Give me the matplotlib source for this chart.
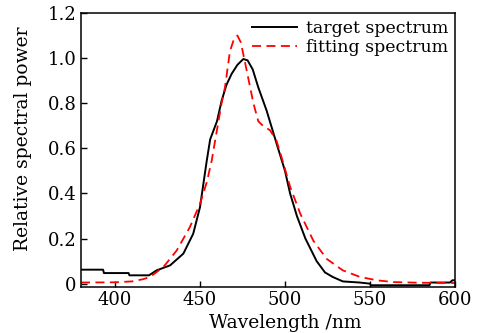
import numpy as np
import matplotlib
matplotlib.use('Agg')
import matplotlib.pyplot as plt

# target spectrum
wl_target = [380, 393, 393.5, 408, 408.5, 420, 424.5, 432.4, 440.2, 446, 450, 454,
             456, 460, 462.7, 465.5, 468.6, 472, 475.5, 478, 481, 484.3, 489.2,
             495.1, 500, 503, 507, 512, 518.6, 523.5, 528, 534, 544, 550, 550.5,
             585, 585.5, 597, 598.5, 600]
target = [0.062, 0.062, 0.047, 0.047, 0.037, 0.037, 0.059, 0.081, 0.133, 0.221,
          0.339, 0.546, 0.64, 0.72, 0.81, 0.88, 0.93, 0.97, 0.996, 0.99, 0.95,
          0.87, 0.767, 0.62, 0.50, 0.40, 0.30, 0.20, 0.10, 0.05, 0.03, 0.01, 0.005,
          0.0, -0.007, -0.007, 0.005, 0.005, 0.015, 0.015]

# fitting spectrum
wl_fit = [380, 400, 410, 416.7, 420.6, 428.4, 436.3, 444, 450, 454, 456.9, 459.5,
          462.7, 464.7, 467.6, 470, 472, 474, 477.5, 481.4, 484.3, 487, 491.2, 495,
          498, 503, 509, 516.7, 524.5, 534, 544, 554, 563.7, 580, 600]
fit = [0.005, 0.006, 0.01, 0.02, 0.03, 0.073, 0.147, 0.25, 0.354, 0.45, 0.546, 0.66,
       0.80, 0.87, 1.03, 1.085, 1.10, 1.07, 0.944, 0.80, 0.72, 0.70, 0.68, 0.634,
       0.56, 0.43, 0.31, 0.19, 0.11, 0.059, 0.03, 0.015, 0.007, 0.004, 0.003]

plt.rcParams['font.family'] = ['DejaVu Serif']
plt.rcParams['font.size'] = 13

fig = plt.figure(figsize=(4.82, 3.33), dpi=100)
ax = fig.add_axes([0.168, 0.138, 0.776, 0.823])

ax.plot(wl_target, target, color='black', lw=1.4, label='target spectrum')
ax.plot(wl_fit, fit, color='red', lw=1.3, ls=(0, (5, 3)), label='fitting spectrum')

ax.set_xlim(380, 600)
ax.set_ylim(-0.015, 1.2)
ax.set_xticks([400, 450, 500, 550, 600])
ax.set_yticks([0, 0.2, 0.4, 0.6, 0.8, 1.0, 1.2])
ax.set_yticklabels(['0', '0.2', '0.4', '0.6', '0.8', '1.0', '1.2'])
ax.tick_params(direction='in', length=4, width=1, top=False, right=False, pad=3)
for s in ax.spines.values():
    s.set_linewidth(1.1)

ax.set_xlabel('Wavelength /nm', fontsize=13.5)
ax.set_ylabel('Relative spectral power', fontsize=13.5)
ax.xaxis.set_label_coords(0.545, -0.10)
ax.yaxis.set_label_coords(-0.131, 0.54)

ax.legend(loc='upper right', frameon=False, handlelength=2.6, handletextpad=0.5,
          borderaxespad=0.2, labelspacing=0.1, borderpad=0.2, fontsize=12.5)

fig.savefig('out.png', dpi=100)
